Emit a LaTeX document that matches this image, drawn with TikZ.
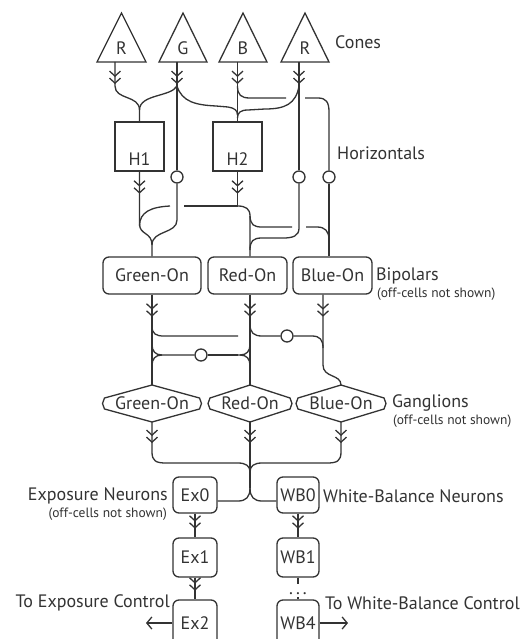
\documentclass[tikz,border=0pt]{standalone}
\usepackage{fontspec}
\setmainfont{PT Sans}
\usetikzlibrary{decorations.markings,arrows.meta}
\definecolor{ink}{HTML}{333333}
\newcommand\ganglshape[4]{%
  \draw[wire] (#2,385) -- (#2+#3-2,398) -- (#2+#3,403.5) -- (#2+#3-2,409) -- (#2,422) -- (#2-#3+2,409) -- (#2-#3,403.5) -- (#2-#3+2,398) -- cycle;
  \node[big] (#1) at (#2,403.5) {#4};
  \coordinate (#1-t) at (#2,385);
  \coordinate (#1-b) at (#2,422);}
\begin{document}
\begin{tikzpicture}[x=1pt,y=-1pt,
  big/.style={font=\fontsize{18}{21}\selectfont, text=ink},
  small/.style={font=\fontsize{13.5}{16}\selectfont, text=ink},
  wire/.style={draw=ink, line width=1.3pt},
  chev/.style={postaction={decorate}, decoration={markings, mark=at position #1 with {\arrow{Straight Barb[length=5pt,width=11pt,sep=0.5pt] Straight Barb[length=5pt,width=11pt]}}}},
  hbox/.style={draw=ink, line width=1.3pt, minimum width=49pt, minimum height=49pt, inner sep=0pt},
  rbox/.style={draw=ink, line width=1.3pt, rounded corners=6pt, inner sep=0pt, big},
  inh/.style={draw=ink, line width=1.3pt, circle, minimum size=12pt, inner sep=0pt},
  lbl/.style={big, inner sep=0pt},
  slbl/.style={small, inner sep=0pt}]
\clip (0,0) rectangle (530,639);
\fill[white] (0,0) rectangle (530,639);
% ---------- cones
\draw[wire] (97,62) -- (121.5,13) -- (146,62) -- cycle;
\draw[wire] (159,62) -- (183,13) -- (207,62) -- cycle;
\draw[wire] (219,62) -- (243,13) -- (267,62) -- cycle;
\draw[wire] (281,62) -- (305,13) -- (329,62) -- cycle;
\node[big] (cR1) at (121.5,48) {R};
\node[big] (cG) at (183,48) {G};
\node[big] (cB) at (243,48) {B};
\node[big] (cR2) at (305,48) {R};
\coordinate (sR1) at (115,62);
\coordinate (sG) at (177,62);
\coordinate (sB) at (237.5,62);
\coordinate (sR2) at (299,62);
\coordinate (jR1) at (115,86);
\coordinate (jG) at (177,86);
\coordinate (jB) at (237.5,86);
\coordinate (jR2) at (299,86);
% ---------- horizontals
\node[hbox] (H1) at (139.5,146.5) {};
\node[hbox] (H2) at (237.5,146.5) {};
\node[big] (H1t) at (139.5,159) {H1};
\node[big] (H2t) at (237.5,159) {H2};
\node[inh] (cirG) at (177,177) {};
\node[inh] (cirR) at (299,177) {};
\node[inh] (cirB) at (329,177) {};
% ---------- bipolars
\node[rbox, minimum width=98pt, minimum height=37pt] (GB) at (152,275.5) {Green-On};
\node[rbox, minimum width=79pt, minimum height=37pt] (RB) at (247.5,275.5) {Red-On};
\node[rbox, minimum width=79pt, minimum height=37pt] (BB) at (332.5,275.5) {Blue-On};
% ---------- ganglions
\ganglshape{GG}{152}{49.5}{Green-On}
\ganglshape{RG}{250}{42}{Red-On}
\ganglshape{BG}{341}{45}{Blue-On}
\node[inh] (cirB1) at (287,336) {};
\node[inh] (cirB2) at (201,355) {};
% ---------- output neurons
\node[rbox, minimum width=44pt, minimum height=36pt] (Ex0) at (195,495) {Ex0};
\node[rbox, minimum width=44pt, minimum height=39pt] (Ex1) at (195,557.5) {Ex1};
\node[rbox, minimum width=44pt, minimum height=46pt] (Ex2) at (195,623) {Ex2};
\node[rbox, minimum width=42pt, minimum height=36pt] (WB0) at (298,495) {WB0};
\node[rbox, minimum width=42pt, minimum height=39pt] (WB1) at (298,557.5) {WB1};
\node[rbox, minimum width=42pt, minimum height=46pt] (WB4) at (298,623) {WB4};
\node[big, inner sep=0pt, anchor=base] (dots) at (298,594) {.\hspace{3pt}.\hspace{3pt}.};
\coordinate (toEx) at (146,623);
\coordinate (toWB) at (348,623);
% ---------- labels
\node[lbl, anchor=west] (Lcones) at (335,42) {Cones};
\node[lbl, anchor=west] (Lhor) at (337,153) {Horizontals};
\node[lbl, anchor=west] (Lbip) at (376,276) {Bipolars};
\node[slbl, anchor=west] (Lbip2) at (377,294) {(off-cells not shown)};
\node[lbl, anchor=west] (Lgan) at (392,403) {Ganglions};
\node[slbl, anchor=west] (Lgan2) at (393,421) {(off-cells not shown)};
\node[lbl, anchor=east] (Lexp) at (168,496) {Exposure Neurons};
\node[slbl, anchor=east] (Lexp2) at (167,514) {(off-cells not shown)};
\node[lbl, anchor=west] (Lwb) at (323,496) {White-Balance Neurons};
\node[lbl, anchor=east] (Ltoex) at (170,603) {To Exposure Control};
\node[lbl, anchor=west] (Ltowb) at (325,603) {To White-Balance Control};
% ---------- cone wiring
\draw[wire, chev=22pt] (sR1) -- (jR1) .. controls (115,100) and (139.5,95) .. (139.5,110) -- (H1.north);
\draw[wire, chev=22pt] (sG) -- (cirG.north);
\draw[wire] (jG) .. controls (171,97) and (139.5,94) .. (139.5,110);
\draw[wire] (jG) .. controls (182,102) and (196,105) .. (216,106) -- (228,107) .. controls (234,108) and (237.5,110) .. (237.5,115);
\draw[wire, chev=22pt] (sB) -- (H2.north);
\coordinate (g1a) at (286,98);
\coordinate (g1b) at (305,98);
\draw[wire] (jB) .. controls (237.5,95) and (241,98) .. (250,98) -- (g1a);
\draw[wire] (g1b) -- (318,98) .. controls (326,98) and (329,102) .. (329,112) -- (cirB.north);
\draw[wire, chev=22pt] (sR2) -- (cirR.north);
\draw[wire] (jR2) .. controls (296,104) and (285,109) .. (265,109) -- (248,110) .. controls (240,110) and (237.5,113) .. (237.5,118);
% ---------- horizontal-level wiring
\coordinate (jH2) at (237.5,206);
\coordinate (g2a) at (184,206);
\coordinate (g2b) at (170,206);
\coordinate (jRB) at (250,216);
\coordinate (g3a) at (292,227);
\coordinate (g3b) at (306,227);
\draw[wire, chev=22pt] (H1.south) -- (139.5,224) .. controls (139.5,235) and (152,232) .. (152,245) -- (152,0 |- GB.north);
\draw[wire] (cirG.south) -- (177,220) .. controls (177,234) and (152,230) .. (152,245);
\draw[wire, chev=22pt] (H2.south) -- (jH2);
\draw[wire] (jH2) -- (g2a);
\draw[wire] (g2b) .. controls (151,207) and (139.5,212) .. (139.5,226);
\draw[wire] (jH2) .. controls (246,206) and (250,209) .. (jRB) -- (250,0 |- RB.north);
\draw[wire] (jRB) .. controls (250.5,225) and (254,227) .. (262,227) -- (g3a);
\draw[wire] (g3b) -- (317,227) .. controls (325,227) and (329,231) .. (329,240);
\draw[wire] (cirR.south) -- (299,228) .. controls (299,236) and (293,238) .. (283,238) -- (262,238) .. controls (253,238) and (250,241) .. (250,250);
\draw[wire] (cirB.south) -- (329,0 |- BB.north);
% ---------- bipolar-level wiring
\draw[wire, chev=22pt] (152,0 |- GB.south) -- (GG-t);
\draw[wire, chev=22pt] (250,0 |- RB.south) -- (RG-t);
\draw[wire, chev=22pt] (323,0 |- BB.south) -- (323,365) .. controls (323,378) and (341,374) .. (BG-t);
\draw[wire] (152,326) .. controls (152,334) and (156,336) .. (164,336) -- (238,336);
\draw[wire] (250,324) .. controls (250,333) and (254,336) .. (262,336) -- (cirB1.west);
\draw[wire] (cirB1.east) -- (312,336) .. controls (320,336) and (323,340) .. (323,348);
\draw[wire] (152,344) .. controls (152,351) and (155,355) .. (162,355) -- (cirB2.west);
\draw[wire] (162,355) .. controls (155,355) and (152,359) .. (152,366);
\draw[wire] (cirB2.east) -- (238,355);
\draw[wire] (250,344) .. controls (250,351) and (247,355) .. (240,355) -- (238,355);
\draw[wire] (240,355) .. controls (247,355) and (250,359) .. (250,366);
% ---------- ganglion wiring
\coordinate (jGan) at (250,472);
\coordinate (jOut) at (250,488);
\draw[wire, chev=21pt] (GG-b) -- (152,452) .. controls (152,461) and (156,463) .. (166,463) -- (238,463) .. controls (246,463) and (250,466) .. (jGan);
\draw[wire, chev=21pt] (RG-b) -- (jGan) -- (jOut);
\draw[wire, chev=21pt] (BG-b) -- (341,452) .. controls (341,461) and (337,463) .. (327,463) -- (262,463) .. controls (254,463) and (250,466) .. (jGan);
\draw[wire] (jOut) .. controls (250,497) and (246,501) .. (238,501) -- (Ex0.east |- 0,501);
\draw[wire] (jOut) .. controls (250,497) and (254,501) .. (262,501) -- (WB0.west |- 0,501);
% ---------- output chains
\draw[wire, chev=15pt] (Ex0.south) -- (Ex1.north);
\draw[wire, chev=13pt] (Ex1.south) -- (Ex2.north);
\draw[wire, chev=15pt] (WB0.south) -- (WB1.north);
\draw[wire] (WB1.south) -- (298,584);
\draw[wire] (298,597) -- (WB4.north);
\draw[wire, -{Straight Barb[length=5pt,width=12pt]}] (Ex2.west) -- (toEx);
\draw[wire, -{Straight Barb[length=5pt,width=12pt]}] (WB4.east) -- (toWB);
\end{tikzpicture}
\end{document}
